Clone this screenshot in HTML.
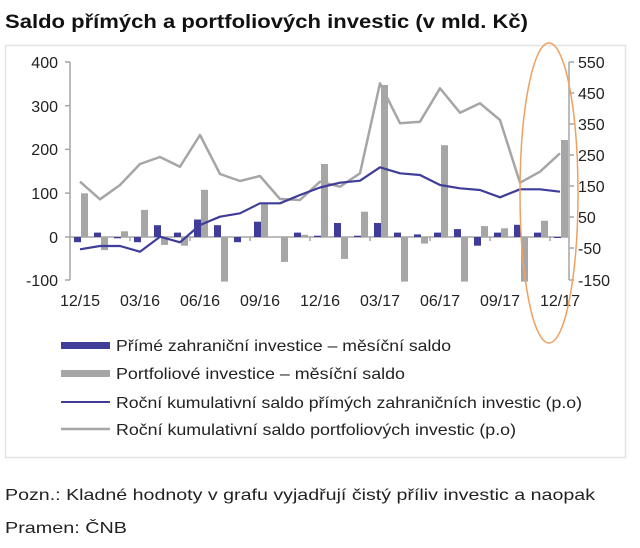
<!DOCTYPE html>
<html><head><meta charset="utf-8"><style>
html,body{margin:0;padding:0;background:#fff;}
svg{display:block;}
text{font-family:"Liberation Sans",sans-serif;}
</style></head><body>
<svg width="640" height="548" viewBox="0 0 640 548" xmlns="http://www.w3.org/2000/svg">
<text x="5" y="28" font-size="19" font-weight="bold" fill="#111" textLength="523" lengthAdjust="spacingAndGlyphs">Saldo přímých a portfoliových investic (v mld. Kč)</text>
<rect x="5.5" y="45.5" width="620" height="412" fill="none" stroke="#e3e3e3" stroke-width="1.5"/>
<!-- left axis -->
<g stroke="#a6a6a6" stroke-width="1.5" fill="none">
<line x1="70" y1="62" x2="70" y2="280"/>
<line x1="65" y1="62" x2="70" y2="62"/><line x1="65" y1="105.7" x2="70" y2="105.7"/><line x1="65" y1="149.4" x2="70" y2="149.4"/><line x1="65" y1="193.1" x2="70" y2="193.1"/><line x1="65" y1="237" x2="70" y2="237"/><line x1="65" y1="280" x2="70" y2="280"/>
<line x1="569" y1="62" x2="569" y2="280"/>
<line x1="569" y1="62" x2="574" y2="62"/><line x1="569" y1="93" x2="574" y2="93"/><line x1="569" y1="124" x2="574" y2="124"/><line x1="569" y1="155" x2="574" y2="155"/><line x1="569" y1="186" x2="574" y2="186"/><line x1="569" y1="217" x2="574" y2="217"/><line x1="569" y1="248" x2="574" y2="248"/><line x1="569" y1="280" x2="574" y2="280"/>
<line x1="70" y1="237" x2="569" y2="237"/>
<line x1="130" y1="237" x2="130" y2="241"/><line x1="190" y1="237" x2="190" y2="241"/><line x1="250" y1="237" x2="250" y2="241"/><line x1="310" y1="237" x2="310" y2="241"/><line x1="370" y1="237" x2="370" y2="241"/><line x1="430" y1="237" x2="430" y2="241"/><line x1="490" y1="237" x2="490" y2="241"/><line x1="550" y1="237" x2="550" y2="241"/>
</g>
<g font-size="16" fill="#222" text-anchor="end">
<text x="58" y="68">400</text><text x="58" y="112">300</text><text x="58" y="155">200</text><text x="58" y="199">100</text><text x="58" y="243">0</text><text x="58" y="286">-100</text>
</g>
<g font-size="16" fill="#222">
<text x="578" y="68">550</text><text x="578" y="99">450</text><text x="578" y="130">350</text><text x="578" y="161">250</text><text x="578" y="192">150</text><text x="578" y="223">50</text><text x="578" y="254">-50</text><text x="578" y="286">-150</text>
</g>
<g font-size="16" fill="#222" text-anchor="middle">
<text x="80" y="306">12/15</text><text x="140" y="306">03/16</text><text x="200" y="306">06/16</text><text x="260" y="306">09/16</text><text x="320" y="306">12/16</text><text x="380" y="306">03/17</text><text x="440" y="306">06/17</text><text x="500" y="306">09/17</text><text x="560" y="306">12/17</text>
</g>
<!-- gray bars -->
<g fill="#a6a6a6">
<rect x="81" y="193.3" width="7" height="43.7"/>
<rect x="101" y="237" width="7" height="13.1"/>
<rect x="121" y="231.3" width="7" height="5.7"/>
<rect x="141" y="209.9" width="7" height="27.1"/>
<rect x="161" y="237" width="7" height="7.9"/>
<rect x="181" y="237" width="7" height="8.7"/>
<rect x="201" y="189.8" width="7" height="47.2"/>
<rect x="221" y="237" width="7" height="44.6"/>
<rect x="261" y="204.2" width="7" height="32.8"/>
<rect x="281" y="237" width="7" height="24.9"/>
<rect x="301" y="234.8" width="7" height="2.2"/>
<rect x="321" y="164" width="7" height="73"/>
<rect x="341" y="237" width="7" height="21.9"/>
<rect x="361" y="211.7" width="7" height="25.3"/>
<rect x="381" y="85" width="7" height="152"/>
<rect x="401" y="237" width="7" height="44.6"/>
<rect x="421" y="237" width="7" height="6.6"/>
<rect x="441" y="145.2" width="7" height="91.8"/>
<rect x="461" y="237" width="7" height="44.6"/>
<rect x="481" y="226.1" width="7" height="10.9"/>
<rect x="501" y="228.3" width="7" height="8.7"/>
<rect x="521" y="237" width="7" height="44.6"/>
<rect x="541" y="220.8" width="7" height="16.2"/>
<rect x="561" y="140" width="7" height="97"/>
</g>
<!-- blue bars -->
<g fill="#3f3d99">
<rect x="74" y="237" width="7" height="5.2"/>
<rect x="94" y="232.6" width="7" height="4.4"/>
<rect x="114" y="237" width="7" height="1.3"/>
<rect x="134" y="237" width="7" height="5.2"/>
<rect x="154" y="225.2" width="7" height="11.8"/>
<rect x="174" y="232.6" width="7" height="4.4"/>
<rect x="194" y="219.5" width="7" height="17.5"/>
<rect x="214" y="225.2" width="7" height="11.8"/>
<rect x="234" y="237" width="7" height="5.2"/>
<rect x="254" y="221.7" width="7" height="15.3"/>
<rect x="294" y="232.6" width="7" height="4.4"/>
<rect x="314" y="235.7" width="7" height="1.3"/>
<rect x="334" y="223" width="7" height="14"/>
<rect x="354" y="235.7" width="7" height="1.3"/>
<rect x="374" y="223" width="7" height="14"/>
<rect x="394" y="232.6" width="7" height="4.4"/>
<rect x="414" y="234.4" width="7" height="2.6"/>
<rect x="434" y="232.6" width="7" height="4.4"/>
<rect x="454" y="229.1" width="7" height="7.9"/>
<rect x="474" y="237" width="7" height="8.7"/>
<rect x="494" y="232.6" width="7" height="4.4"/>
<rect x="514" y="224.8" width="7" height="12.2"/>
<rect x="534" y="232.6" width="7" height="4.4"/>
<rect x="554" y="237" width="7" height="1"/>
</g>
<polyline fill="none" stroke="#a6a6a6" stroke-width="2.5" stroke-linejoin="round" points="80,181.7 100,199.3 120,185 140,164 160,157 180,166.7 200,135 220,174 240,181 260,176 280,199 300,200 320,181.7 340,186.7 360,173.3 380,83.3 400,123.3 420,121.7 440,88.3 460,112.7 480,103.3 500,120 520,182.7 540,171.7 560,153.3"/>
<polyline fill="none" stroke="#3f3d99" stroke-width="2.2" stroke-linejoin="round" points="80,249.3 100,246 120,246 140,251.7 160,236.7 180,242.3 200,225 220,216.7 240,213.3 260,203.3 280,203.3 300,195 320,187.5 340,182.7 360,180.7 380,167.3 400,173.3 420,175 440,185 460,188.3 480,190 500,197.3 520,189.3 540,189.3 560,191.7"/>
<ellipse cx="549" cy="193" rx="29" ry="150" fill="none" stroke="#f0a060" stroke-width="1.5"/>
<!-- legend -->
<rect x="61" y="342" width="49" height="7" fill="#3f3d99"/>
<rect x="61" y="370" width="49" height="7" fill="#a6a6a6"/>
<line x1="61" y1="402" x2="110" y2="402" stroke="#3f3d99" stroke-width="2"/>
<line x1="61" y1="429" x2="110" y2="429" stroke="#a6a6a6" stroke-width="2.5"/>
<g font-size="16" fill="#222">
<text x="116" y="351" textLength="335" lengthAdjust="spacingAndGlyphs">Přímé zahraniční investice – měsíční saldo</text>
<text x="116" y="379" textLength="289" lengthAdjust="spacingAndGlyphs">Portfoliové investice – měsíční saldo</text>
<text x="116" y="408" textLength="466" lengthAdjust="spacingAndGlyphs">Roční kumulativní saldo přímých zahraničních investic (p.o)</text>
<text x="116" y="435" textLength="400" lengthAdjust="spacingAndGlyphs">Roční kumulativní saldo portfoliových investic (p.o)</text>
</g>
<text x="5" y="500" font-size="16" fill="#222" textLength="590" lengthAdjust="spacingAndGlyphs">Pozn.: Kladné hodnoty v grafu vyjadřují čistý příliv investic a naopak</text>
<text x="5" y="533" font-size="16" fill="#222" textLength="122" lengthAdjust="spacingAndGlyphs">Pramen: ČNB</text>
</svg>
</body></html>
